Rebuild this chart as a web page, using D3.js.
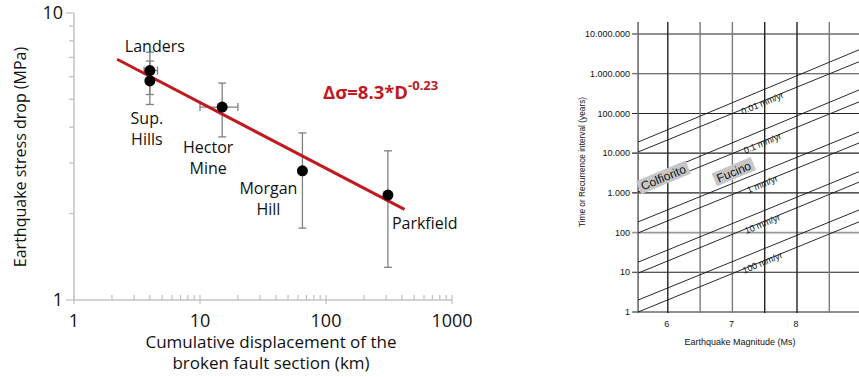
<!doctype html>
<html lang="en">

<head>
  <meta charset="utf-8">
  <title>Stress drop vs displacement · Recurrence intervals</title>
  <script src="https://d3js.org/d3.v7.min.js"></script>
  <style>
    body { margin: 0; background: #fff; }
    svg { display: block; }
  </style>
</head>

<body>
  <div id="chart"></div>

  <script>
    // Data: left panel (stress drop vs cumulative displacement) ---------------------------------------------------
    const quakes = ["Landers", "Sup. Hills", "Hector Mine", "Morgan Hill", "Parkfield"];
    const displacement = [4, 4, 15, 65, 310];          // km
    const stressDrop = [6.3, 5.8, 4.7, 2.82, 2.32];      // MPa
    const stressLow = [5.2, 4.8, 3.7, 1.78, 1.30];
    const stressHigh = [7.3, 6.8, 5.7, 3.82, 3.31];
    const dispLow = [3.6, null, 10, null, null];
    const dispHigh = [4.6, null, 20, null, null];
    const fitLine = [[2.2, 6.9], [420, 2.07]];           // Δσ = 8.3 * D^-0.23
    const dispTicks = [1, 10, 100, 1000];
    const stressTicks = [1, 10];

    // Data: right panel (recurrence interval vs magnitude) --------------------------------------------------------
    const rates = ["0.01 mm/yr", "0.1 mm/yr", "1 mm/yr", "10 mm/yr", "100 mm/yr"];
    const lineStartM = 5.54;
    const lineEndM = 8.96;
    const upperStart = [19000, 1860, 186, 18, 2];
    const lowerStart = [10700, 1050, 98, 9.5, 1];
    const upperEnd = [4000000, 390000, 34000, 3400, 370];
    const lowerEnd = [2000000, 195000, 18000, 1860, 186];
    const magTicks = [6, 7, 8];
    const magGrid = [6, 6.5, 7, 7.5, 8, 8.5];
    const yearTicks = [1, 10, 100, 1000, 10000, 100000, 1000000, 10000000];
    const yearTickLabels = ["1", "10", "100", "1.000", "10.000", "100.000", "1.000.000", "10.000.000"];
    const sites = ["Colfiorito", "Fucino"];
    const siteM = [5.93, 7.02];
    const siteT = [2450, 3400];

    const width = 859;
    const height = 377;

    const svg = d3.select("#chart")
      .append("svg")
      .attr("width", width)
      .attr("height", height)
      .attr("viewBox", [0, 0, width, height]);

    // Left panel -----------------------------------------------------------------------------------------------------
    const leftFont = "'Open Sans', 'DejaVu Sans', sans-serif";
    const axisGrey = "#c4c4c4";

    const x = d3.scaleLog().domain([1, 1000]).range([74, 452]);
    const y = d3.scaleLog().domain([1, 10]).range([300, 13]);

    const left = svg.append("g").style("font-family", leftFont);

    // y axis: minor ticks for 2..9, longer major ticks
    const yMinor = d3.range(2, 10);
    left.append("line")
      .attr("x1", x(1)).attr("x2", x(1))
      .attr("y1", y(10)).attr("y2", y(1))
      .attr("stroke", axisGrey).attr("stroke-width", 1.5);
    left.selectAll(".ytick")
      .data(yMinor.concat(stressTicks))
      .join("line")
      .attr("x1", d => x(1) - (stressTicks.includes(d) ? 8 : 5))
      .attr("x2", x(1))
      .attr("y1", d => y(d)).attr("y2", d => y(d))
      .attr("stroke", axisGrey).attr("stroke-width", 1.3);
    left.selectAll(".ylab")
      .data(stressTicks)
      .join("text")
      .attr("x", x(1) - 11)
      .attr("y", d => y(d))
      .attr("dy", "0.36em")
      .attr("text-anchor", "end")
      .attr("font-size", 18)
      .attr("fill", "#111")
      .text(d => d);

    // x axis: minor ticks pointing up
    const xMinor = [];
    for (let dec = 1; dec < 1000; dec *= 10) {
      for (let k = 2; k <= 9; k++) xMinor.push(dec * k);
    }
    left.append("line")
      .attr("x1", x(1)).attr("x2", x(1000))
      .attr("y1", y(1)).attr("y2", y(1))
      .attr("stroke", axisGrey).attr("stroke-width", 1.5);
    left.selectAll(".xtick")
      .data(xMinor.concat(dispTicks))
      .join("line")
      .attr("x1", d => x(d)).attr("x2", d => x(d))
      .attr("y1", y(1) - 5)
      .attr("y2", d => dispTicks.includes(d) ? y(1) + 4 : y(1))
      .attr("stroke", axisGrey).attr("stroke-width", 1.3);
    left.selectAll(".xlab")
      .data(dispTicks)
      .join("text")
      .attr("x", d => x(d))
      .attr("y", y(1) + 27)
      .attr("text-anchor", "middle")
      .attr("font-size", 18)
      .attr("fill", "#111")
      .text(d => d);

    // axis titles
    left.append("text")
      .attr("text-anchor", "middle")
      .attr("font-size", 17)
      .attr("fill", "#111")
      .selectAll("tspan")
      .data(["Cumulative displacement of the", "broken fault section (km)"])
      .join("tspan")
      .attr("x", 271)
      .attr("y", (d, i) => 348 + i * 21)
      .text(d => d);

    left.append("text")
      .attr("transform", "translate(26,157) rotate(-90)")
      .attr("text-anchor", "middle")
      .attr("font-size", 16)
      .attr("fill", "#111")
      .text("Earthquake stress drop (MPa)");

    // error bars
    const errColor = "#808080";
    const cap = 4;
    const errs = left.append("g").attr("stroke", errColor).attr("stroke-width", 1.3);
    quakes.forEach((q, i) => {
      const cx = x(displacement[i]);
      errs.append("line")
        .attr("x1", cx).attr("x2", cx)
        .attr("y1", y(stressLow[i])).attr("y2", y(stressHigh[i]));
      [stressLow[i], stressHigh[i]].forEach(v => {
        errs.append("line")
          .attr("x1", cx - cap).attr("x2", cx + cap)
          .attr("y1", y(v)).attr("y2", y(v));
      });
      if (dispLow[i] != null) {
        const cy = y(stressDrop[i]);
        errs.append("line")
          .attr("x1", x(dispLow[i])).attr("x2", x(dispHigh[i]))
          .attr("y1", cy).attr("y2", cy);
        [dispLow[i], dispHigh[i]].forEach(v => {
          errs.append("line")
            .attr("x1", x(v)).attr("x2", x(v))
            .attr("y1", cy - cap).attr("y2", cy + cap);
        });
      }
    });

    // fit line
    left.append("path")
      .datum(fitLine)
      .attr("d", d3.line().x(d => x(d[0])).y(d => y(d[1])))
      .attr("stroke", "#c0191f")
      .attr("stroke-width", 3)
      .attr("fill", "none");

    // points
    left.selectAll(".pt")
      .data(quakes)
      .join("circle")
      .attr("cx", (d, i) => x(displacement[i]))
      .attr("cy", (d, i) => y(stressDrop[i]))
      .attr("r", 5.5)
      .attr("fill", "#000");

    // point labels (offsets from the point, in px)
    const labelLayout = [
      { lines: ["Landers"], dx: 5, dy: -24, anchor: "middle" },
      { lines: ["Sup.", "Hills"], dx: -3, dy: 37, anchor: "middle" },
      { lines: ["Hector", "Mine"], dx: -14, dy: 40, anchor: "middle" },
      { lines: ["Morgan", "Hill"], dx: -34, dy: 17, anchor: "middle" },
      { lines: ["Parkfield"], dx: 4, dy: 28, anchor: "start" }
    ];
    quakes.forEach((q, i) => {
      const lay = labelLayout[i];
      left.append("text")
        .attr("text-anchor", lay.anchor)
        .attr("font-size", 16)
        .attr("fill", "#111")
        .selectAll("tspan")
        .data(lay.lines)
        .join("tspan")
        .attr("x", x(displacement[i]) + lay.dx)
        .attr("y", (d, j) => y(stressDrop[i]) + lay.dy + j * 21)
        .attr("dy", "0.36em")
        .text(d => d);
    });

    // equation
    const eq = left.append("text")
      .attr("x", 323)
      .attr("y", 99)
      .attr("font-size", 18.5)
      .attr("font-weight", "bold")
      .attr("fill", "#c0191f");
    eq.append("tspan").text("Δσ=8.3*D");
    eq.append("tspan").attr("dy", -9).attr("font-size", 13).text("-0.23");

    // Right panel ----------------------------------------------------------------------------------------------------
    const rightFont = "'Liberation Sans', Arial, Helvetica, sans-serif";
    const xm = d3.scaleLinear().domain([5.5, 9]).range([635.5, 861.6]);
    const yt = d3.scaleLog().domain([1, 1e7]).range([312, 34]);
    const axisX = xm(lineStartM);

    const right = svg.append("g").style("font-family", rightFont);

    // horizontal grid
    right.selectAll(".hgrid")
      .data(yearTicks)
      .join("line")
      .attr("x1", axisX - 6).attr("x2", width)
      .attr("y1", d => yt(d)).attr("y2", d => yt(d))
      .attr("stroke", d => d === 100 ? "#9a9a9a" : (d === 1000000 ? "#444" : "#222"))
      .attr("stroke-width", d => d === 100 ? 1.8 : 1.1);

    // vertical grid
    right.selectAll(".vgrid")
      .data(magGrid)
      .join("line")
      .attr("x1", d => xm(d)).attr("x2", d => xm(d))
      .attr("y1", 22).attr("y2", 313)
      .attr("stroke", d => (d === 6.5 || d === 7 || d === 8.5) ? "#7a7a7a" : "#222")
      .attr("stroke-width", 1.4);

    // y axis line
    right.append("line")
      .attr("x1", axisX).attr("x2", axisX)
      .attr("y1", 22).attr("y2", 313)
      .attr("stroke", "#6a6a6a").attr("stroke-width", 1.6);

    // slip-rate lines
    const diag = right.append("g").attr("stroke", "#111").attr("stroke-width", 0.9);
    rates.forEach((r, i) => {
      [[upperStart[i], upperEnd[i]], [lowerStart[i], lowerEnd[i]]].forEach(([t0, t1]) => {
        diag.append("line")
          .attr("x1", xm(lineStartM)).attr("y1", yt(t0))
          .attr("x2", xm(lineEndM)).attr("y2", yt(t1));
      });
    });

    const angle = Math.atan2(yt(upperEnd[0]) - yt(upperStart[0]), xm(lineEndM) - xm(lineStartM)) * 180 / Math.PI;
    const logAt = (m, t0, t1) => {
      const f = (m - lineStartM) / (lineEndM - lineStartM);
      return Math.pow(10, Math.log10(t0) + f * (Math.log10(t1) - Math.log10(t0)));
    };

    // rate labels, centred between each pair of lines
    const labelM = 7;
    rates.forEach((r, i) => {
      const tu = logAt(labelM, upperStart[i], upperEnd[i]);
      const tl = logAt(labelM, lowerStart[i], lowerEnd[i]);
      const cy = (yt(tu) + yt(tl)) / 2;
      right.append("text")
        .attr("transform", `translate(${xm(labelM) + 30},${cy + 12 * Math.tan(angle * Math.PI / 180)}) rotate(${angle})`)
        .attr("text-anchor", "middle")
        .attr("dy", "0.35em")
        .attr("font-size", 9)
        .attr("fill", "#111")
        .text(r);
    });

    // site boxes
    sites.forEach((s, i) => {
      const g = right.append("g")
        .attr("transform", `translate(${xm(siteM[i])},${yt(siteT[i])}) rotate(${angle})`);
      const t = g.append("text")
        .attr("text-anchor", "middle")
        .attr("dy", "0.36em")
        .attr("font-size", 12)
        .attr("fill", "#111")
        .text(s);
      const bb = t.node().getBBox();
      g.insert("rect", "text")
        .attr("x", bb.x - 3)
        .attr("y", -7)
        .attr("width", bb.width + 6)
        .attr("height", 14)
        .attr("fill", "#c6c6c6");
    });

    // tick labels
    right.selectAll(".ylab")
      .data(yearTicks)
      .join("text")
      .attr("x", axisX - 8)
      .attr("y", d => yt(d))
      .attr("dy", "0.35em")
      .attr("text-anchor", "end")
      .attr("font-size", 9)
      .attr("fill", "#111")
      .text((d, i) => yearTickLabels[i]);

    right.selectAll(".xlab")
      .data(magTicks)
      .join("text")
      .attr("x", d => xm(d) - 1)
      .attr("y", 327)
      .attr("text-anchor", "middle")
      .attr("font-size", 9)
      .attr("fill", "#111")
      .text(d => d);

    right.append("text")
      .attr("x", 740)
      .attr("y", 345)
      .attr("text-anchor", "middle")
      .attr("font-size", 9)
      .attr("fill", "#111")
      .text("Earthquake Magnitude (Ms)");

    right.append("text")
      .attr("transform", "translate(585,162) rotate(-90)")
      .attr("text-anchor", "middle")
      .attr("font-size", 8.3)
      .attr("fill", "#111")
      .text("Time or Recurrence interval (years)");
  </script>
</body>

</html>
